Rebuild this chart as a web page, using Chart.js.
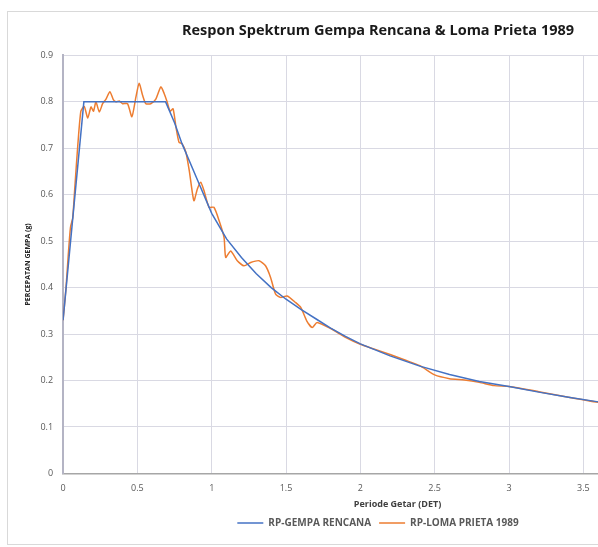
<!DOCTYPE html>
<html>
<head>
<meta charset="utf-8">
<script src="https://cdn.jsdelivr.net/npm/chart.js@4.4.1/dist/chart.umd.min.js"></script>
<style>
  html, body { margin: 0; padding: 0; background: #ffffff; overflow: hidden; }
  #wrap { position: absolute; left: 0; top: 0; width: 760px; height: 547px; }
</style>
</head>
<body>
<div id="wrap"><canvas id="spektrum"></canvas></div>
<script>
// RP-GEMPA RENCANA (design spectrum)
const rencanaT = [0, 0.14, 0.69, 0.75, 0.8, 0.9, 1.0, 1.1, 1.2, 1.3, 1.4, 1.5, 1.6, 1.7, 1.8, 1.9, 2.0,
  2.2, 2.4, 2.6, 2.8, 3.0, 3.2, 3.4, 3.6, 3.8, 4.0, 4.2, 4.5];
const rencanaSa = [0.33, 0.80, 0.80, 0.755, 0.71, 0.635, 0.56, 0.505, 0.465, 0.43, 0.40, 0.375, 0.353, 0.333, 0.313, 0.295, 0.279,
  0.253, 0.231, 0.213, 0.198, 0.187, 0.175, 0.164, 0.154, 0.146, 0.139, 0.132, 0.123];

// RP-LOMA PRIETA 1989
const lomaT = [0, 0.02, 0.035, 0.05, 0.065, 0.08, 0.1, 0.12, 0.143, 0.166, 0.188, 0.205, 0.221, 0.244, 0.266,
  0.289, 0.315, 0.338, 0.356, 0.378, 0.40, 0.434, 0.463, 0.49, 0.512, 0.535, 0.557, 0.59, 0.624, 0.658,
  0.68, 0.70, 0.72, 0.74, 0.76, 0.78, 0.80, 0.826, 0.85, 0.88, 0.904, 0.926, 0.948, 0.982, 1.015, 1.05,
  1.083, 1.094, 1.128, 1.172, 1.217, 1.262, 1.318, 1.362, 1.396, 1.43, 1.463, 1.508, 1.564, 1.6, 1.64,
  1.676, 1.709, 1.8, 1.9, 2.0, 2.1, 2.2, 2.3, 2.4, 2.5, 2.6, 2.7, 2.8, 2.9, 3.0, 3.2, 3.4, 3.6, 3.8,
  4.0, 4.2, 4.5];
const lomaSa = [0.33, 0.40, 0.47, 0.53, 0.55, 0.62, 0.71, 0.78, 0.79, 0.765, 0.789, 0.78, 0.80, 0.778, 0.796,
  0.806, 0.822, 0.805, 0.80, 0.802, 0.796, 0.796, 0.768, 0.81, 0.84, 0.814, 0.796, 0.796, 0.806, 0.832,
  0.818, 0.80, 0.78, 0.785, 0.745, 0.713, 0.71, 0.692, 0.65, 0.587, 0.613, 0.627, 0.609, 0.573, 0.573, 0.544,
  0.508, 0.465, 0.479, 0.458, 0.447, 0.454, 0.458, 0.447, 0.422, 0.386, 0.379, 0.382, 0.368, 0.357, 0.328,
  0.314, 0.325, 0.312, 0.293, 0.278, 0.267, 0.256, 0.244, 0.232, 0.212, 0.204, 0.201, 0.196, 0.189, 0.187,
  0.176, 0.164, 0.153, 0.145, 0.138, 0.131, 0.123];

const xTicks = [0, 0.5, 1, 1.5, 2, 2.5, 3, 3.5, 4, 4.5];
const yTicks = [0, 0.1, 0.2, 0.3, 0.4, 0.5, 0.6, 0.7, 0.8, 0.9];

function toPoints(xs, ys) {
  return xs.map((x, i) => ({ x: x, y: ys[i] }));
}

const fontFam = "'Open Sans', 'Liberation Sans', sans-serif";

const frame = {
  id: 'frame',
  beforeDraw(chart) {
    const c = chart.ctx;
    c.save();
    c.strokeStyle = '#d9d9d9';
    c.lineWidth = 1;
    c.strokeRect(7.5, 11.5, chart.width, chart.height - 14);
    c.restore();
  }
};

new Chart(document.getElementById('spektrum'), {
  type: 'scatter',
  data: {
    datasets: [
      {
        label: 'RP-GEMPA RENCANA',
        data: toPoints(rencanaT, rencanaSa),
        showLine: true,
        borderColor: '#4472C4',
        backgroundColor: '#4472C4',
        borderWidth: 1.5,
        pointRadius: 0,
        tension: 0
      },
      {
        label: 'RP-LOMA PRIETA 1989',
        data: toPoints(lomaT, lomaSa),
        showLine: true,
        borderColor: '#ED7D31',
        backgroundColor: '#ED7D31',
        borderWidth: 1.5,
        pointRadius: 0,
        tension: 0.2
      }
    ]
  },
  options: {
    responsive: true,
    maintainAspectRatio: false,
    animation: false,
    layout: { padding: { left: 24, right: 28, top: 0, bottom: 9 } },
    plugins: {
      title: {
        display: true,
        text: 'Respon Spektrum Gempa Rencana & Loma Prieta 1989',
        color: '#1a1a1a',
        font: { family: fontFam, size: 14.5, weight: 'bold' },
        padding: { top: 22, bottom: 16 }
      },
      legend: {
        position: 'bottom',
        labels: {
          usePointStyle: true,
          pointStyle: 'line',
          pointStyleWidth: 26,
          boxHeight: 2,
          color: '#595959',
          padding: 8,
          font: { family: fontFam, size: 10, weight: 'bold' }
        }
      },
      tooltip: { enabled: false }
    },
    scales: {
      x: {
        type: 'linear',
        min: 0,
        max: 4.5,
        afterBuildTicks(axis) { axis.ticks = xTicks.map(v => ({ value: v })); },
        ticks: {
          color: '#595959',
          padding: 10,
          font: { family: fontFam, size: 9 },
          callback: v => String(+v.toFixed(2))
        },
        grid: { color: '#d9d9e3', drawTicks: false },
        border: { color: '#a6a6a6', width: 1.5 },
        title: {
          display: true,
          text: 'Periode Getar (DET)',
          color: '#404040',
          font: { family: fontFam, size: 9, weight: 'bold' },
          padding: { top: -5, bottom: 0 }
        }
      },
      y: {
        type: 'linear',
        min: 0,
        max: 0.9,
        afterBuildTicks(axis) { axis.ticks = yTicks.map(v => ({ value: v })); },
        ticks: {
          color: '#595959',
          padding: 10,
          font: { family: fontFam, size: 9 },
          callback: v => String(+v.toFixed(2))
        },
        grid: { color: '#d9d9e3', drawTicks: false },
        border: { color: '#b4b4c4', width: 2 },
        title: {
          display: true,
          text: 'PERCEPATAN GEMPA (g)',
          color: '#262626',
          font: { family: fontFam, size: 7, weight: 'bold' },
          padding: { top: 0, bottom: -2 }
        }
      }
    }
  },
  plugins: [frame]
});
</script>
</body>
</html>
